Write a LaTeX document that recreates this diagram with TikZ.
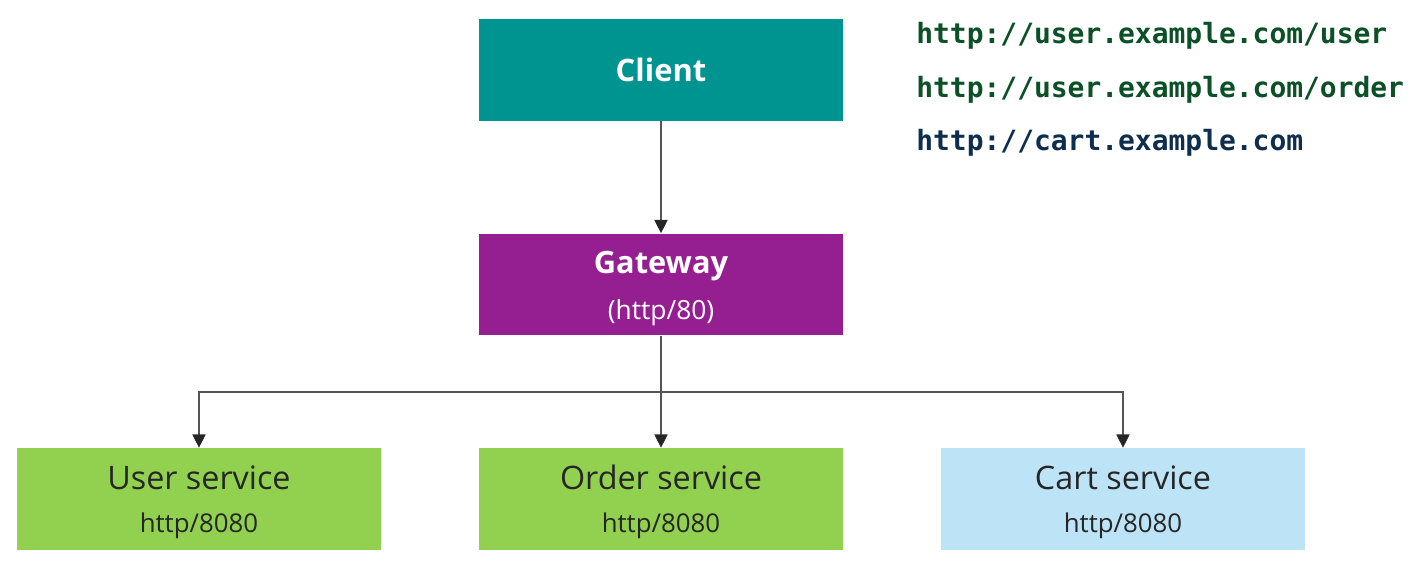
\documentclass[tikz,border=0pt]{standalone}
\usepackage{fontspec}
\setmainfont{Open Sans}
\setmonofont{DejaVu Sans Mono}
\usetikzlibrary{arrows.meta}
\definecolor{clientteal}{HTML}{009490}
\definecolor{gatewaypurple}{HTML}{951F91}
\definecolor{svcgreen}{HTML}{92D050}
\definecolor{svcblue}{HTML}{BDE3F7}
\definecolor{urlgreen}{HTML}{0B5026}
\definecolor{urlnavy}{HTML}{0F2E4E}
\definecolor{linegray}{HTML}{555555}
\begin{document}
\begin{tikzpicture}[x=0.02cm,y=-0.02cm,
    box/.style={rectangle,minimum width=7.28cm,minimum height=2.04cm,inner sep=0pt,align=center},
    svc/.style={box,fill=svcgreen,text=black!85},
    url/.style={anchor=west,inner sep=0pt,font=\ttfamily\bfseries\fontsize{15.9}{18}\selectfont},
    arrow/.style={draw=linegray,line width=0.6pt,-{Triangle[width=7.5pt,length=7.5pt,color=black!85]}}]

    \useasboundingbox (0,0) rectangle (1424,566);

    \node[box,fill=clientteal,text=white,font=\bfseries\fontsize{17.6}{20}\selectfont] (client) at (661,70) {Client};
    \node[box,fill=gatewaypurple,text=white] (gateway) at (661,284.5)
        {{\bfseries\fontsize{17.5}{20}\selectfont\rule{0pt}{17.4pt}Gateway}\\[9.4pt]{\fontsize{15}{17}\selectfont (http/80)}};
    \node[svc] (user) at (199,499)
        {{\fontsize{18.4}{21}\selectfont\rule{0pt}{16.8pt}User service}\\[12.6pt]{\fontsize{14.7}{17}\selectfont http/8080}};
    \node[svc] (order) at (661,499)
        {{\fontsize{18.4}{21}\selectfont\rule{0pt}{16.8pt}Order service}\\[12.6pt]{\fontsize{14.7}{17}\selectfont http/8080}};
    \node[box,fill=svcblue,text=black!85] (cart) at (1123,499)
        {{\fontsize{18.4}{21}\selectfont\rule{0pt}{16.8pt}Cart service}\\[12.6pt]{\fontsize{14.7}{17}\selectfont http/8080}};

    \node[url,text=urlgreen] (url1) at (916,36) {http://user.example.com/user};
    \node[url,text=urlgreen] (url2) at (916,90) {http://user.example.com/order};
    \node[url,text=urlnavy] (url3) at (916,143) {http://cart.example.com};

    \coordinate (bus) at (661,392);

    \draw[arrow] (client) -- (gateway);
    \draw[draw=linegray,line width=0.6pt] (gateway) -- (bus);
    \draw[arrow] (bus) -- (order);
    \draw[arrow] (bus) -| (user);
    \draw[arrow] (bus) -| (cart);
\end{tikzpicture}
\end{document}
